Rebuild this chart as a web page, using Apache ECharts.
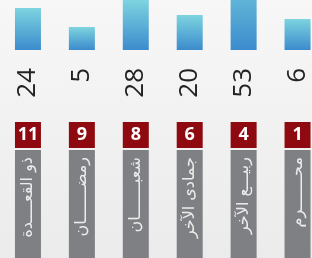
<!DOCTYPE html>
<html>
<head>
<meta charset="utf-8">
<script src="https://cdn.jsdelivr.net/npm/echarts@6/dist/echarts.min.js"></script>
<style>
  html, body { margin: 0; padding: 0; }
  body { background: linear-gradient(#f7f7f7, #ebebeb); }
  #chart { width: 312px; height: 258px; }
</style>
</head>
<body>
<div id="chart"></div>
<script>
// Hijri months, counts shown under the bars, rank in the red box
const months = ['ذو القعــــدة', 'رمضـــــــان', 'شعبـــــــان', 'جمادى الآخر', 'ربيـــع الآخر', 'محـــــــرم'];
const counts = [24, 5, 28, 20, 53, 6];
const ranks = [11, 9, 8, 6, 4, 1];
// bar heights as drawn in the picture (not proportional to counts)
const barHeights = [42, 23, 50, 35, 90, 31];
const boxes = [1, 1, 1, 1, 1, 1];

const chart = echarts.init(document.getElementById('chart'));

const gridBase = { left: 1, width: 323.5, outerBoundsMode: 'none' };

chart.setOption({
  backgroundColor: 'transparent',
  animation: false,
  grid: [
    Object.assign({ top: -50, height: 100 }, gridBase),
    Object.assign({ top: 122, height: 26 }, gridBase),
    Object.assign({ top: 150, height: 130 }, gridBase)
  ],
  xAxis: [
    {
      type: 'category', gridIndex: 0, data: months,
      axisLine: { show: false }, axisTick: { show: false },
      axisLabel: {
        interval: 0, rotate: 90, margin: 18,
        fontSize: 26, fontFamily: 'Open Sans', color: '#222',
        formatter: (v, i) => String(counts[i])
      }
    },
    {
      type: 'category', gridIndex: 1, data: months,
      axisLine: { show: false }, axisTick: { show: false }, axisLabel: { show: false }
    },
    {
      type: 'category', gridIndex: 2, data: months, position: 'top', z: 10,
      axisLine: { show: false }, axisTick: { show: false },
      axisLabel: {
        inside: true, interval: 0, rotate: 90, margin: 7,
        fontSize: 16, fontFamily: 'DejaVu Sans', color: '#ececec'
      }
    }
  ],
  yAxis: [
    { type: 'value', gridIndex: 0, min: 0, max: 100, show: false },
    { type: 'value', gridIndex: 1, min: 0, max: 1, show: false },
    { type: 'value', gridIndex: 2, min: 0, max: 1, show: false }
  ],
  series: [
    {
      type: 'bar', xAxisIndex: 0, yAxisIndex: 0, barWidth: 26,
      data: barHeights,
      itemStyle: {
        color: new echarts.graphic.LinearGradient(0, 0, 0, 1, [
          { offset: 0, color: '#7dd4df' },
          { offset: 1, color: '#3c8bcd' }
        ])
      }
    },
    {
      type: 'bar', xAxisIndex: 1, yAxisIndex: 1, barWidth: 26,
      data: boxes,
      itemStyle: { color: '#8f0a10' },
      label: {
        show: true, position: 'inside', color: '#fff',
        fontSize: 18, fontWeight: 'bold', fontFamily: 'Open Sans',
        formatter: p => String(ranks[p.dataIndex])
      }
    },
    {
      type: 'bar', xAxisIndex: 2, yAxisIndex: 2, barWidth: 26,
      data: boxes,
      itemStyle: { color: '#7f8084' }
    }
  ]
});
</script>
</body>
</html>
